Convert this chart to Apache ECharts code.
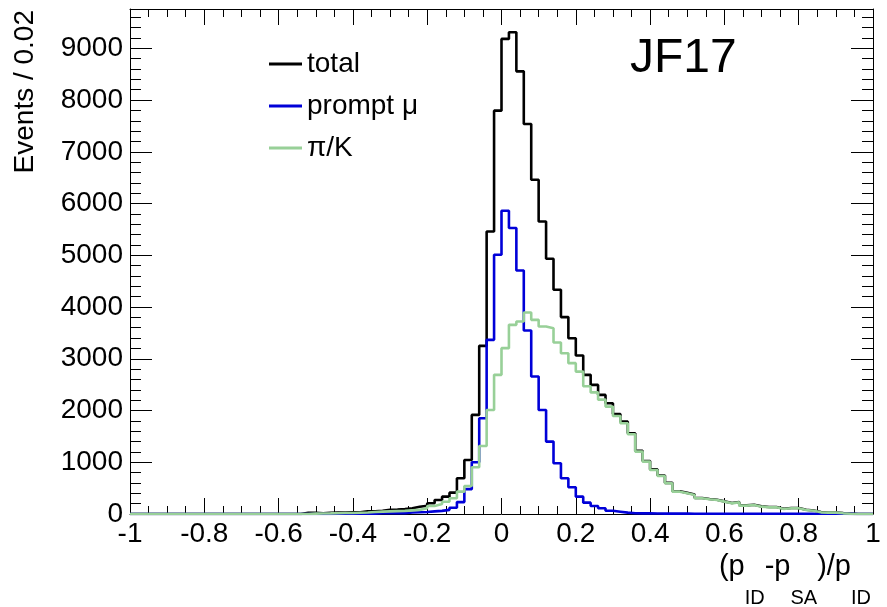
<!DOCTYPE html>
<html><head><meta charset="utf-8">
<script src="https://cdn.jsdelivr.net/npm/echarts@6/dist/echarts.min.js"></script>
<style>html,body{margin:0;padding:0;background:#fff}#c{width:887px;height:607px}</style>
</head><body><div id="c"></div>
<script>
// Histogram binning: 100 bins of width 0.02 over [-1, 1]
const X_MIN = -1, X_MAX = 1, BIN_W = 0.02;
const Y_MAX = 9760;
const seriesNames = ['total', 'prompt \u03bc', '\u03c0/K'];

const totalCounts = [
  0,0,0,0,0,0,0,0,0,0, 0,0,0,0,0,0,0,0,0,0, 0,0,0,
  25,25,15,25,30,30,35,35,50,50,
  60,80,85,95,110,141,161,207,271,335,
  413,690,1044,1915,3250,5460,7795,9182,9310,8555,
  7537,6460,5654,4932,4333,3805,3398,3062,2689,2495,
  2302,2141,1934,1785,1560,1220,1025,862,745,602,
  440,408,375,310,290,276,244,211,231,166,
  178,147,134,134,102,115,115,82,68,37,
  30,30,17,8,
  0,0,0
];
const promptMu = [
  0,0,0,0,0,0,0,0,0,0, 0,0,0,0,0,0,0,0,0,0, 0,0,0,0,0,0,0,
  8,8,8,8,8,8,15,15,15,15,
  30,35,40,50,60,80,120,230,480,1000,
  1850,3366,5010,5861,5526,4706,3546,2656,2011,1399,
  980,690,516,335,219,155,110,64,45,26,
  15,12,12,10,8,8,7,7,6,6,
  5,5,5,4,4,4,4,4,4,4,
  4,4,4,4,4,4,4,4,4,3,
  0,0,0
];
const piK = [
  0,0,0,0,0,0,0,0,0,0, 0,0,0,0,0,0,0,0,0,0, 0,0,0,0,
  8,10,12,15,18,20,25,30,38,45,
  50,55,60,70,80,110,155,193,238,303,
  432,541,903,1315,2011,2689,3205,3656,3720,3894,
  3752,3623,3591,3314,3108,2915,2752,2470,2350,2210,
  2076,1895,1755,1540,1206,1012,851,735,593,432,
  400,368,303,284,271,239,206,226,161,174,
  142,129,129,97,110,110,77,64,32,26,
  26,13,5,
  0,0,0
];

// x-axis title pieces: [text, isSubscript]
const xTitlePieces = [['(p', 0], ['ID', 1], ['-p', 0], ['SA', 1], [')/p', 0], ['ID', 1]];
const yTitle = 'Events / 0.02';
const tagText = 'JF17';

function toSteps(arr) {
  const pts = arr.map((v, i) => [+(X_MIN + i * BIN_W).toFixed(4), v]);
  pts.push([X_MAX, arr[arr.length - 1]]);
  return pts;
}

const FONT = '"Liberation Sans", Arial, Helvetica, sans-serif';
const black = '#000';

function xAx(pos, showLabel) {
  return {
    type: 'value', min: X_MIN, max: X_MAX, interval: 0.2, position: pos,
    axisLine: { show: true, onZero: false, lineStyle: { color: black, width: 1 } },
    axisTick: { show: true, inside: true, length: 16, lineStyle: { color: black, width: 1 } },
    minorTick: { show: true, splitNumber: 4, length: 8, lineStyle: { color: black, width: 1 } },
    splitLine: { show: false }, minorSplitLine: { show: false },
    axisLabel: { show: showLabel, fontSize: 28, color: black, fontFamily: FONT, margin: 6,
      formatter: v => String(+v.toFixed(2)) }
  };
}
function yAx(pos, interval, len, showLabel, showLine) {
  return {
    type: 'value', min: 0, max: Y_MAX, interval: interval, position: pos,
    axisLine: { show: showLine, onZero: false, lineStyle: { color: black, width: 1 } },
    axisTick: { show: true, inside: true, length: len, lineStyle: { color: black, width: 1 } },
    splitLine: { show: false },
    axisLabel: { show: showLabel, fontSize: 28, color: black, fontFamily: FONT, margin: 7,
      showMaxLabel: false, formatter: v => String(v) }
  };
}

// x-axis title with subscripts, laid out from measured widths
const MAIN_SIZE = 29, SUB_SIZE = 20;
const TITLE_RIGHT = 871, MAIN_BASE = 577, SUB_BASE = 605;
const mctx = document.createElement('canvas').getContext('2d');
function textW(t, s) { mctx.font = s + 'px ' + FONT; return mctx.measureText(t).width; }
const widths = xTitlePieces.map(p => textW(p[0], p[1] ? SUB_SIZE : MAIN_SIZE));
let cx = TITLE_RIGHT - widths.reduce((a, b) => a + b, 0);
const titleEls = xTitlePieces.map((p, i) => {
  const size = p[1] ? SUB_SIZE : MAIN_SIZE;
  const el = { type: 'text', x: cx, y: (p[1] ? SUB_BASE : MAIN_BASE) - size * 0.3465,
    style: { text: p[0], font: size + 'px ' + FONT, fill: black,
      align: 'left', verticalAlign: 'middle', textAlign: 'left', textVerticalAlign: 'middle' } };
  cx += widths[i];
  return el;
});

const chart = echarts.init(document.getElementById('c'), null, { renderer: 'canvas' });
chart.setOption({
  animation: false,
  backgroundColor: '#fff',
  grid: { left: 130, right: 14, top: 9, bottom: 93 },
  xAxis: [xAx('bottom', true), xAx('top', false)],
  yAxis: [
    yAx('left', 1000, 22, true, true),
    yAx('left', 200, 11, false, false),
    yAx('right', 1000, 22, false, true),
    yAx('right', 200, 11, false, false)
  ],
  legend: {
    orient: 'vertical', left: 269, top: 49, padding: 0, itemWidth: 33, itemHeight: 3, icon: 'rect',
    itemGap: 12, selectedMode: false,
    textStyle: { fontSize: 28, lineHeight: 30, color: black, fontFamily: FONT },
    data: seriesNames
  },
  series: [
    { name: seriesNames[0], type: 'line', step: 'end', data: toSteps(totalCounts), symbol: 'none',
      lineStyle: { color: '#000000', width: 2.6 }, itemStyle: { color: '#000000' }, z: 2 },
    { name: seriesNames[1], type: 'line', step: 'end', data: toSteps(promptMu), symbol: 'none',
      lineStyle: { color: '#0000d8', width: 2.6 }, itemStyle: { color: '#0000d8' }, z: 3 },
    { name: seriesNames[2], type: 'line', step: 'end', data: toSteps(piK), symbol: 'none',
      lineStyle: { color: '#98d098', width: 2.6 }, itemStyle: { color: '#98d098' }, z: 4 }
  ],
  graphic: [
    { type: 'text', x: 630, y: 59, style: { text: tagText, font: '48px ' + FONT, fill: black,
      align: 'left', verticalAlign: 'middle', textAlign: 'left', textVerticalAlign: 'middle' } },
    { type: 'text', x: 25, y: 10, rotation: Math.PI / 2, style: { text: yTitle, font: '28px ' + FONT,
      fill: black, align: 'right', verticalAlign: 'middle', textAlign: 'right', textVerticalAlign: 'middle' } }
  ].concat(titleEls)
});
</script>
</body></html>
